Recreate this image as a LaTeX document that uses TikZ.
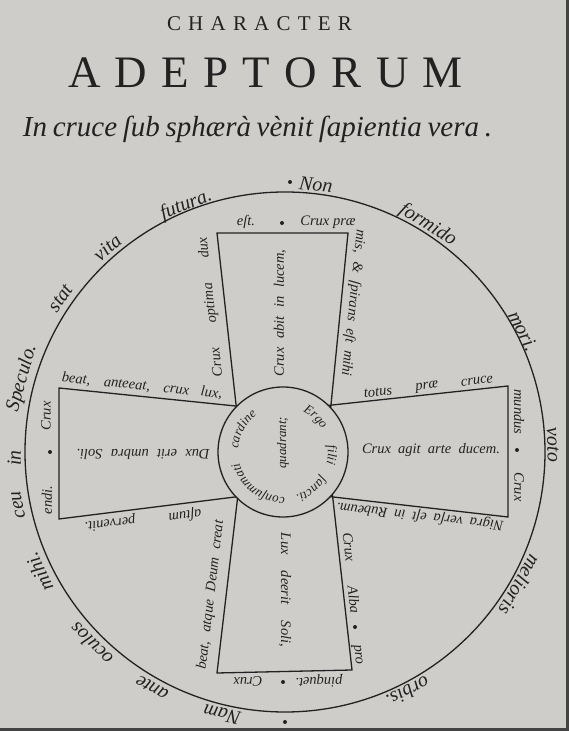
\documentclass[tikz,border=0pt]{standalone}
\usepackage{fontspec}
\setmainfont{Liberation Serif}
\usetikzlibrary{decorations.text}
\definecolor{paper}{RGB}{206,205,201}
\definecolor{inkc}{RGB}{34,34,34}
\begin{document}
\begin{tikzpicture}[x=1pt,y=1pt,
  frame/.style={draw=inkc,line width=1.3pt},
  ringtxt/.style={font=\itshape\fontsize{20}{20}\selectfont,text=inkc,inner sep=0pt},
  edgetxt/.style={font=\itshape\fontsize{14.5}{14.5}\selectfont,text=inkc,inner sep=0pt},
  hubtxt/.style={font=\itshape\fontsize{13}{13}\selectfont,text=inkc,inner sep=0pt},
  titletxt/.style={text=inkc,inner sep=0pt,anchor=base},
  dotmark/.style={circle,fill=inkc,inner sep=0pt,minimum size=4pt},
]
\fill[paper] (0,0) rectangle (569,731);
\useasboundingbox (0,0) rectangle (569,731);
\fill[inkc!85] (566,0) rectangle (569,731);
\fill[inkc!85] (0,0) rectangle (569,3);

% titles
\node[titletxt,font=\fontsize{21}{21}\selectfont] (t1) at (259.5,700) {\makebox[185pt][s]{C H A R A C T E R}};
\node[titletxt,font=\fontsize{45}{45}\selectfont] (t2) at (265.5,643) {\makebox[395pt][s]{A D E P T O R U M}};
\node[titletxt,font=\itshape\fontsize{29}{29}\selectfont] (t3) at (257.5,594) {\makebox[469pt][s]{In cruce ſub sphærà vènit ſapientia vera .}};

\coordinate (C) at (285,279);
\coordinate (c) at (283,279);
\draw[frame] (C) circle[radius=260];

% arms of the cross
\draw[frame] (238.3,306) -- (217,498) -- (348,498) -- (329,306);
\draw[frame] (300,322.5) -- (508,345) -- (508,214) -- (300,237.8);
\draw[frame] (239.7,251) -- (217,58) -- (352,61) -- (330.8,251);
\draw[frame] (265,322) -- (59,343) -- (59,212) -- (265,237.75);
\filldraw[frame,fill=paper] (c) circle[radius=65];

% outer ring
\node[dotmark] (d1) at (290,549) {};
\node[dotmark] (d2) at (285,9) {};
\foreach \a/\r/\w/\n in {83.4/269/Non/rA, 57.8/268/formido/rB, 26.9/267/mori./rC,
  1.5/268/voto/rD, -29.5/270/melioris/rE, -62.9/270/orbis./rF,
  -103.5/270/Nam/rG, -119.4/271/ante/rH, -135.3/273/oculos/rI, -153.9/274/mihi./rJ,
  -168.8/272/ceu/rK, -178.7/271/in/rL, 164.3/273/Speculo./rM, 145.6/272/stat/rN,
  131/271/vita/rO, 111.8/266/futura./rP}
  \node[ringtxt,rotate=\a-90] (\n) at ([shift={(\a:\r)}]C) {\w};

% top arm
\node[edgetxt] (tA1) at (246,509) {eſt.};
\node[dotmark] (tA2) at (282,508) {};
\node[edgetxt] (tA3) at (328,509) {Crux præ};
\node[edgetxt,rotate=96.5] (tA4) at (211,424) {\makebox[140pt][s]{Crux optima dux}};
\node[edgetxt,rotate=-95.8] (tA5) at (353,428) {\makebox[147pt][s]{mis, \& ſpirans eſt mihi}};
\node[edgetxt,rotate=90] (tA6) at (280,418) {\makebox[127pt][s]{Crux abit in lucem,}};

% right arm
\node[edgetxt,rotate=6.2] (rA1) at (378,339) {totus};
\node[edgetxt,rotate=6.2] (rA2) at (427,344) {præ};
\node[edgetxt,rotate=6.2] (rA3) at (477,350) {cruce};
\node[edgetxt,rotate=-90] (rA4) at (519,319) {mundus};
\node[dotmark] (rA5) at (517,281) {};
\node[edgetxt,rotate=-90] (rA6) at (519,244) {Crux};
\node[edgetxt] (rA7) at (431,281) {\makebox[138pt][s]{Crux agit arte ducem.}};
\node[edgetxt,rotate=173.5] (rA8) at (420,215) {\makebox[168pt][s]{Nigra verſa eſt in Rubeum.}};

% bottom arm
\node[edgetxt,rotate=-83.6] (bA1) at (349,184) {Crux};
\node[edgetxt,rotate=-83.6] (bA2) at (354,131) {Alba};
\node[dotmark] (bA3) at (355,104) {};
\node[edgetxt,rotate=-83.6] (bA4) at (357,76) {pro};
\node[edgetxt,rotate=-90] (bA5) at (285,141) {\makebox[114pt][s]{Lux deerit Soli,}};
\node[edgetxt,rotate=181.3] (bA6) at (319,50) {pinquet.};
\node[dotmark] (bA7) at (283,49) {};
\node[edgetxt,rotate=181.3] (bA8) at (248,49) {Crux};
\node[edgetxt,rotate=83.3] (bA9) at (211,136) {\makebox[150pt][s]{beat, atque Deum creat}};

% left arm
\node[edgetxt,rotate=187.1] (lA1) at (185,216) {aſtum};
\node[edgetxt,rotate=187.1] (lA2) at (110,208) {pervenit.};
\node[edgetxt,rotate=90] (lA3) at (46,315) {Crux};
\node[dotmark] (lA4) at (50,279) {};
\node[edgetxt,rotate=90] (lA5) at (47,231) {endi.};
\node[edgetxt,rotate=-5.8] (lA6) at (142,345) {\makebox[161pt][s]{beat, anteeat, crux lux,}};
\node[edgetxt,rotate=180] (lA7) at (143,277) {\makebox[133pt][s]{Dux erit umbra Soli.}};

% hub
\node[hubtxt,rotate=90] (hQ) at (283,288) {quadrant;};
\foreach \a/\w in {47/Ergo, -3.6/filii, -53/ſancti., -126.6/conſummati, 150.8/cardine}
  \path[decorate,decoration={text along path,text align=center,
      text={|\itshape\fontsize{13}{13}\selectfont\color{inkc}|\w}}]
    ([shift={(\a+45:45)}]c) arc[start angle=\a+45,end angle=\a-45,radius=45];
\end{tikzpicture}
\end{document}
